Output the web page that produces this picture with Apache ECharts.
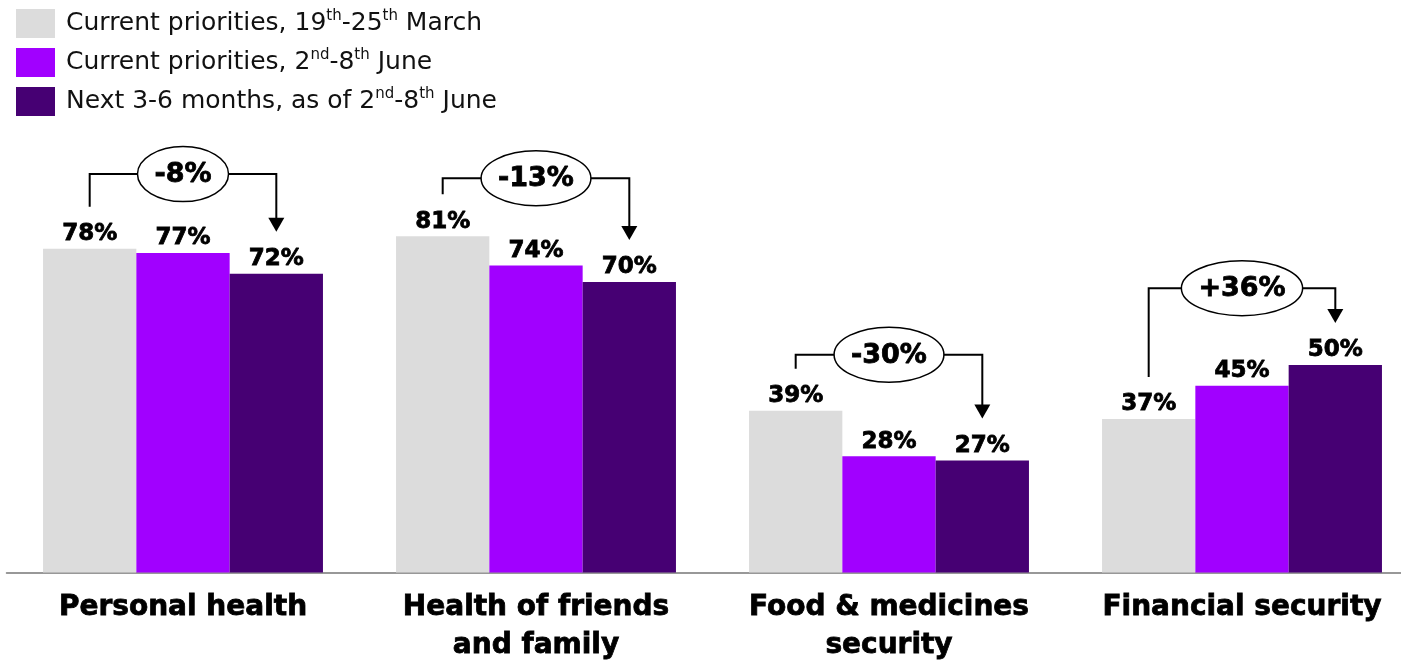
<!DOCTYPE html>
<html>
<head>
<meta charset="utf-8">
<script src="https://cdn.jsdelivr.net/npm/echarts@6/dist/echarts.min.js"></script>
<style>
html,body{margin:0;padding:0;background:#fff;}
#chart{width:1401px;height:660px;}
</style>
</head>
<body>
<div id="chart"></div>
<script>
const categories = ['Personal health', 'Health of friends\nand family', 'Food & medicines\nsecurity', 'Financial security'];
const seriesNames = ['Current priorities, 19th-25th March', 'Current priorities, 2nd-8th June', 'Next 3-6 months, as of 2nd-8th June'];
const legendRich = ['{a|Current priorities, 19}{s|th}{a|-25}{s|th}{a| March}', '{a|Current priorities, 2}{s|nd}{a|-8}{s|th}{a| June}', '{a|Next 3-6 months, as of 2}{s|nd}{a|-8}{s|th}{a| June}'];
const march = [78, 81, 39, 37];
const juneCurrent = [77, 74, 28, 45];
const juneNext = [72, 70, 27, 50];
const changeLabels = ['-8%', '-13%', '-30%', '+36%'];
const bracketLevels = [96, 95, 52.5, 68.5];
const colors = ['#dcdcdc', '#a100ff', '#460073'];

const FONT = 'DejaVu Sans';
const GAP = 0.207;
const chart = echarts.init(document.getElementById('chart'), null, {renderer: 'canvas'});

const mctx = document.createElement('canvas').getContext('2d');
function textWidth(t, font) { mctx.font = font; return mctx.measureText(t).width; }

const barLabel = {show: true, position: 'top', distance: 3, formatter: '{c}%', fontSize: 23, fontWeight: 'bold', fontFamily: FONT, color: '#000', textBorderColor: '#000', textBorderWidth: 0.8};

function barSeries(idx, data) {
  return {
    name: seriesNames[idx], type: 'bar', data: data,
    itemStyle: {color: colors[idx]},
    barGap: '0%', barCategoryGap: (GAP * 100) + '%',
    label: barLabel, emphasis: {disabled: true}, silent: true
  };
}

const bracketData = categories.map((c, i) => [i, bracketLevels[i], march[i], juneNext[i]]);

const option = {
  animation: false,
  legend: {
    data: seriesNames,
    orient: 'vertical', left: 16, top: 9, padding: 0,
    itemWidth: 39, itemHeight: 29, itemGap: 10,
    icon: 'rect', selectedMode: false,
    formatter: function (name) { return legendRich[seriesNames.indexOf(name)]; },
    textStyle: {
      fontFamily: FONT, color: '#111', padding: [0, 0, 0, 6],
      rich: {
        a: {fontSize: 25, fontFamily: FONT, color: '#111', lineHeight: 29},
        s: {fontSize: 15, fontFamily: FONT, color: '#111', lineHeight: 15, verticalAlign: 'top'}
      }
    }
  },
  grid: {left: 6.5, width: 1412, top: 157.5, bottom: 87.5, outerBoundsMode: 'none', containLabel: false},
  xAxis: {
    type: 'category', data: categories,
    axisTick: {show: false},
    axisLine: {lineStyle: {color: '#777', width: 1.5}},
    axisLabel: {interval: 0, fontSize: 28, fontWeight: 'bold', fontFamily: FONT, color: '#000', lineHeight: 38, margin: 16, textBorderColor: '#000', textBorderWidth: 0.8}
  },
  yAxis: {type: 'value', min: 0, max: 100, show: false, splitLine: {show: false}},
  series: [
    barSeries(0, march),
    barSeries(1, juneCurrent),
    barSeries(2, juneNext),
    {
      type: 'custom', silent: true, z: 5,
      encode: {x: 0, y: 1},
      data: bracketData,
      renderItem: function (params, api) {
        const i = api.value(0);
        const c = api.coord([i, api.value(1)]);
        const band = api.size([1, 0])[0];
        const off = band * (1 - GAP) / 3;
        const xl = c[0] - off, xr = c[0] + off, yb = c[1];
        const y1 = api.coord([i, api.value(2)])[1] - 42;
        const yt = api.coord([i, api.value(3)])[1] - 42;
        const txt = changeLabels[i];
        const font = 'bold 27px ' + FONT;
        const rx = textWidth(txt, font) / 2 + 17;
        return {
          type: 'group',
          children: [
            {type: 'polyline', shape: {points: [[xl, y1], [xl, yb], [xr, yb], [xr, yt - 13]]}, style: {stroke: '#000', lineWidth: 2, fill: null}},
            {type: 'polygon', shape: {points: [[xr - 8, yt - 14], [xr + 8, yt - 14], [xr, yt]]}, style: {fill: '#000'}},
            {type: 'ellipse', shape: {cx: c[0], cy: yb, rx: rx, ry: 27.5}, style: {fill: '#fff', stroke: '#000', lineWidth: 1.5}},
            {type: 'text', x: c[0], y: yb + 1, style: {text: txt, font: font, fill: '#000', align: 'center', verticalAlign: 'middle', stroke: '#000', lineWidth: 0.8}}
          ]
        };
      }
    }
  ]
};
chart.setOption(option);
</script>
</body>
</html>
